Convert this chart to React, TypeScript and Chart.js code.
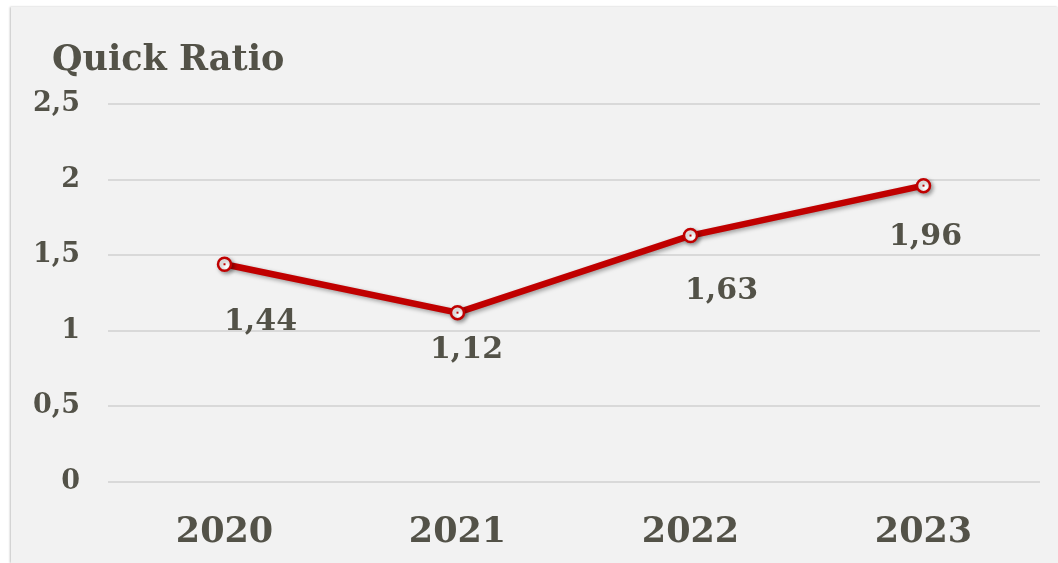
import React, { useEffect, useRef } from "react";
import { Chart, registerables } from "chart.js";

Chart.register(...registerables);

const years = ["2020", "2021", "2022", "2023"];
const quickRatio = [1.44, 1.12, 1.63, 1.96];
const yTicks = [0, 0.5, 1, 1.5, 2, 2.5];
const chartTitle = "Quick Ratio";

const TEXT = "#535248";
const RED = "#c00000";
const FONT = "'DejaVu Serif', Georgia, serif";

// label placement (dx, dy) relative to each point, in px
const labelShift = [
  { dx: 36, dy: 58 },
  { dx: 9, dy: 38 },
  { dx: 31, dy: 56 },
  { dx: 2, dy: 52 },
];

const fmt = (v: number) => String(v).replace(".", ",");

const shadowPlugin = {
  id: "lineShadow",
  beforeDatasetDraw(chart: any) {
    const ctx = chart.ctx;
    ctx.save();
    ctx.shadowColor = "rgba(0,0,0,0.35)";
    ctx.shadowBlur = 4;
    ctx.shadowOffsetX = 2;
    ctx.shadowOffsetY = 2;
  },
  afterDatasetDraw(chart: any) {
    chart.ctx.restore();
  },
};

const labelPlugin = {
  id: "pointLabels",
  afterDatasetsDraw(chart: any) {
    const ctx = chart.ctx;
    const meta = chart.getDatasetMeta(0);
    const data = chart.data.datasets[0].data as number[];
    ctx.save();
    meta.data.forEach((pt: any, i: number) => {
      ctx.fillStyle = RED;
      ctx.fillRect(pt.x - 1, pt.y - 1, 2, 2);
      const s = labelShift[i] || { dx: 0, dy: 48 };
      ctx.fillStyle = TEXT;
      ctx.font = `bold 30px ${FONT}`;
      ctx.textAlign = "center";
      ctx.textBaseline = "middle";
      ctx.fillText(fmt(data[i]), pt.x + s.dx, pt.y + s.dy);
    });
    ctx.restore();
  },
};

function QuickRatioChart() {
  const ref = useRef<HTMLCanvasElement | null>(null);
  useEffect(() => {
    if (!ref.current) return;
    const chart = new Chart(ref.current, {
      type: "line",
      data: {
        labels: years,
        datasets: [
          {
            data: quickRatio,
            borderColor: RED,
            borderWidth: 6.5,
            pointRadius: 6.5,
            pointBorderWidth: 2.5,
            pointBackgroundColor: "#ffffff",
            pointBorderColor: RED,
            tension: 0,
          },
        ],
      },
      options: {
        animation: false,
        responsive: false,
        maintainAspectRatio: false,
        layout: { padding: { left: 10, right: 18, top: 97, bottom: 0 } },
        plugins: {
          legend: { display: false },
          tooltip: { enabled: false },
          title: { display: false },
        },
        scales: {
          x: {
            offset: true,
            grid: { display: false },
            border: { display: false },
            ticks: {
              color: TEXT,
              font: { family: FONT, size: 35, weight: "bold" },
              padding: 22,
            },
            afterFit(scale: any) {
              scale.height = 81;
            },
          },
          y: {
            min: 0,
            max: 2.5,
            afterBuildTicks(scale: any) {
              scale.ticks = yTicks.map((v) => ({ value: v }));
            },
            grid: { color: "#d9d9d9", lineWidth: 2, drawTicks: false },
            border: { display: false },
            ticks: {
              color: TEXT,
              font: { family: FONT, size: 27, weight: "bold" },
              padding: 28,
              callback: (v: any) => fmt(Number(v)),
            },
            afterFit(scale: any) {
              scale.width = 87;
            },
          },
        },
      },
      plugins: [shadowPlugin, labelPlugin],
    });
    return () => chart.destroy();
  }, []);
  return <canvas ref={ref} width={1047} height={556} style={{ display: "block" }} />;
}

export default function App() {
  return (
    <div
      style={{
        position: "fixed",
        left: 0,
        top: 0,
        width: 1058,
        height: 563,
        background: "#ffffff",
        overflow: "hidden",
      }}
    >
      <div
        style={{
          position: "absolute",
          left: 11,
          top: 7,
          width: 1047,
          height: 556,
          background: "#f2f2f2",
          boxShadow: "-1px 0 2px rgba(0,0,0,0.25)",
        }}
      >
        <QuickRatioChart />
        <div
          style={{
            position: "absolute",
            left: 41,
            top: 30,
            fontFamily: FONT,
            fontWeight: "bold",
            fontSize: 35,
            lineHeight: "42px",
            color: TEXT,
            whiteSpace: "nowrap",
          }}
        >
          {chartTitle}
        </div>
      </div>
    </div>
  );
}
